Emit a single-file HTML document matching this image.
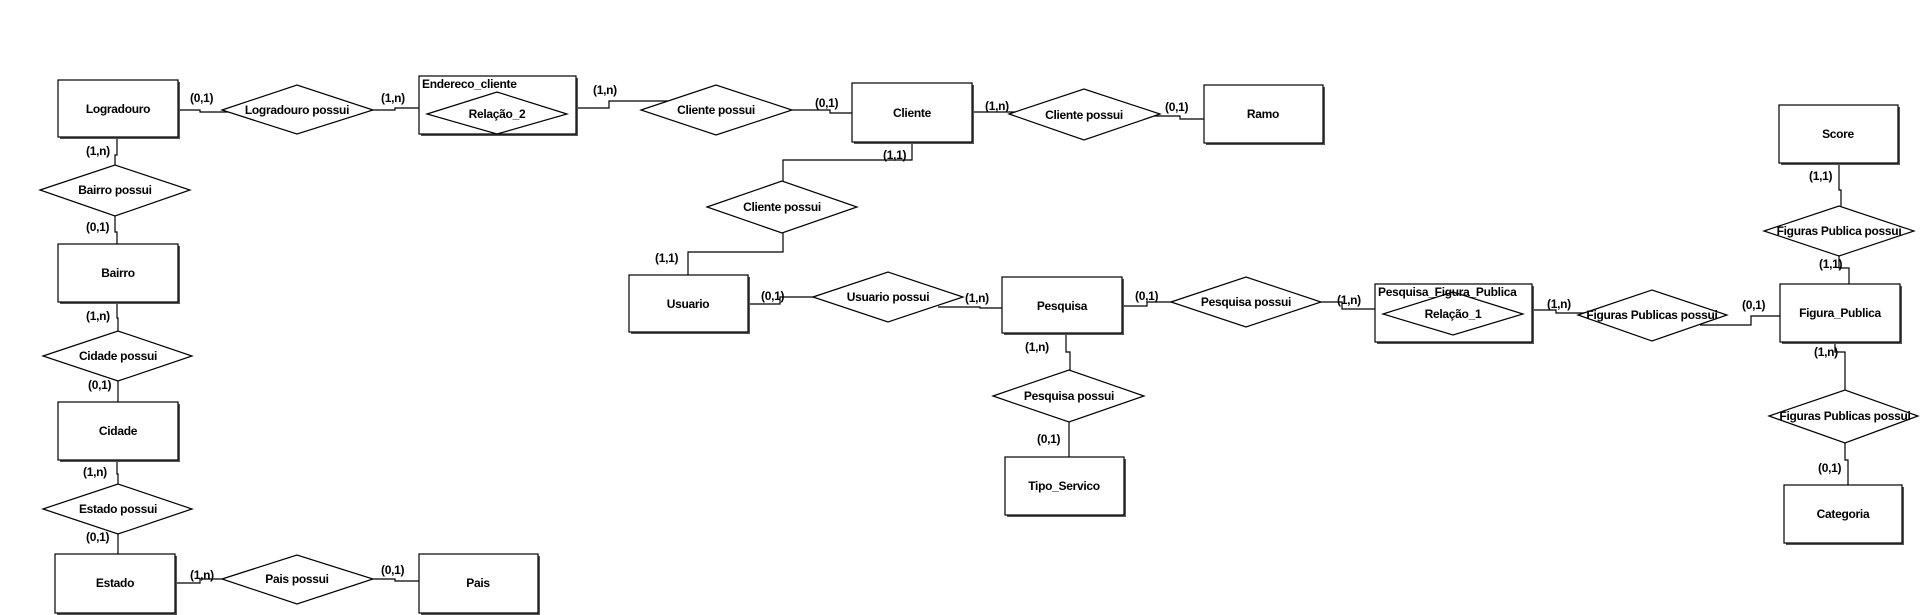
<!DOCTYPE html>
<html><head><meta charset="utf-8"><style>
html,body{margin:0;padding:0;background:#fff;}
svg{display:block;}
text{font-family:"Liberation Sans",Arial,sans-serif;font-weight:bold;font-size:12px;fill:#000;letter-spacing:-0.3px;}
</style></head><body>
<svg width="1922" height="615" viewBox="0 0 1922 615" xmlns="http://www.w3.org/2000/svg">
<g fill="none" stroke="#000" stroke-width="1.2">
<polyline points="178,110 200,110 200,112 232,112"/>
<polyline points="362,110 395,110 395,108 419,108"/>
<polyline points="576,108 609,108 609,101 668,101"/>
<polyline points="792,110 830,110 830,113 852,113"/>
<polyline points="972,112 1020,112"/>
<polyline points="1150,116 1180,116 1180,119 1204,119"/>
<polyline points="912,142 912,160 783,160 783,181"/>
<polyline points="783,233 783,252 688,252 688,275"/>
<polyline points="748,304 780,304 780,297 825,297"/>
<polyline points="938,307 980,307 980,308 1002,308"/>
<polyline points="1122,306 1147,306 1147,302 1180,302"/>
<polyline points="1312,302 1342,302 1342,309 1375,309"/>
<polyline points="1532,310 1556,310 1556,313 1590,313"/>
<polyline points="1700,325 1751,325 1751,316 1780,316"/>
<polyline points="1839,163 1839,190 1841,190 1841,206"/>
<polyline points="1839,256 1839,268 1849,268 1849,284"/>
<polyline points="1835,342 1835,352 1845,352 1845,390"/>
<polyline points="1845,443 1845,460 1848,460 1848,485"/>
<polyline points="1066,333 1066,352 1070,352 1070,370"/>
<polyline points="1069,422 1069,457"/>
<polyline points="117,137 117,155 115,155 115,165"/>
<polyline points="115,216 115,232 117,232 117,244"/>
<polyline points="117,302 117,318 118,318 118,331"/>
<polyline points="118,381 118,402"/>
<polyline points="117,460 117,474 118,474 118,484"/>
<polyline points="118,534 118,554"/>
<polyline points="175,583 200,583 200,579 222,579"/>
<polyline points="373,579 395,579 395,581 419,581"/>
</g>
<g stroke="#000" stroke-width="1.2">
<g fill="#555" stroke="none">
<rect x="60" y="82" width="120" height="57"/>
<rect x="421" y="78" width="157" height="58"/>
<rect x="854" y="85" width="120" height="59"/>
<rect x="1206" y="87" width="119" height="58"/>
<rect x="1781" y="107" width="119" height="58"/>
<rect x="631" y="277" width="119" height="57"/>
<rect x="1004" y="279" width="120" height="56"/>
<rect x="1377" y="286" width="157" height="58"/>
<rect x="1782" y="286" width="120" height="58"/>
<rect x="60" y="246" width="120" height="58"/>
<rect x="60" y="404" width="120" height="58"/>
<rect x="57" y="556" width="120" height="59"/>
<rect x="421" y="556" width="119" height="59"/>
<rect x="1007" y="459" width="119" height="58"/>
<rect x="1786" y="487" width="118" height="58"/>
</g>
<g fill="#fff">
<rect x="58" y="80" width="120" height="57"/>
<rect x="419" y="76" width="157" height="58"/>
<rect x="852" y="83" width="120" height="59"/>
<rect x="1204" y="85" width="119" height="58"/>
<rect x="1779" y="105" width="119" height="58"/>
<rect x="629" y="275" width="119" height="57"/>
<rect x="1002" y="277" width="120" height="56"/>
<rect x="1375" y="284" width="157" height="58"/>
<rect x="1780" y="284" width="120" height="58"/>
<rect x="58" y="244" width="120" height="58"/>
<rect x="58" y="402" width="120" height="58"/>
<rect x="55" y="554" width="120" height="59"/>
<rect x="419" y="554" width="119" height="59"/>
<rect x="1005" y="457" width="119" height="58"/>
<rect x="1784" y="485" width="118" height="58"/>
</g>
<g fill="#fff">
<polygon points="222,110 297,85 373,110 297,134"/>
<polygon points="641,110 716,85 792,110 716,135"/>
<polygon points="1009,114 1084,89 1160,114 1084,140"/>
<polygon points="40,190 115,165 190,190 115,216"/>
<polygon points="43,356 118,331 192,356 118,381"/>
<polygon points="43,509 118,484 192,509 118,534"/>
<polygon points="222,579 297,555 373,579 297,604"/>
<polygon points="707,207 782,181 857,207 782,233"/>
<polygon points="813,297 888,272 963,297 888,322"/>
<polygon points="1171,302 1246,277 1321,302 1246,327"/>
<polygon points="993,396 1069,370 1144,396 1069,422"/>
<polygon points="1578,315 1652,290 1727,315 1652,341"/>
<polygon points="1764,231 1839,206 1914,231 1839,256"/>
<polygon points="1769,416 1845,390 1918,416 1845,443"/>
<polygon points="427,114 497,92 567,114 497,134"/>
<polygon points="1383,314 1453,292 1523,314 1453,335"/>
</g>
</g>
<g text-anchor="middle">
<text x="118" y="113">Logradouro</text>
<text x="912" y="117">Cliente</text>
<text x="1263" y="118">Ramo</text>
<text x="1838" y="138">Score</text>
<text x="688" y="308">Usuario</text>
<text x="1062" y="310">Pesquisa</text>
<text x="1840" y="317">Figura_Publica</text>
<text x="118" y="277">Bairro</text>
<text x="118" y="435">Cidade</text>
<text x="115" y="587">Estado</text>
<text x="478" y="587">Pais</text>
<text x="1064" y="490">Tipo_Servico</text>
<text x="1843" y="518">Categoria</text>
<text x="497" y="118">Relação_2</text>
<text x="1453" y="318">Relação_1</text>
<text x="297" y="114">Logradouro possui</text>
<text x="716" y="114">Cliente possui</text>
<text x="1084" y="119">Cliente possui</text>
<text x="115" y="194">Bairro possui</text>
<text x="118" y="360">Cidade possui</text>
<text x="118" y="513">Estado possui</text>
<text x="297" y="583">Pais possui</text>
<text x="782" y="211">Cliente possui</text>
<text x="888" y="301">Usuario possui</text>
<text x="1246" y="306">Pesquisa possui</text>
<text x="1069" y="400">Pesquisa possui</text>
<text x="1652" y="319">Figuras Publicas possui</text>
<text x="1839" y="235">Figuras Publica possui</text>
<text x="1845" y="420">Figuras Publicas possui</text>
</g>
<g>
<text x="422" y="88">Endereco_cliente</text>
<text x="1378" y="296">Pesquisa_Figura_Publica</text>
</g>
<g font-size="11">
<text x="190" y="102">(0,1)</text>
<text x="381" y="102">(1,n)</text>
<text x="593" y="94">(1,n)</text>
<text x="815" y="107">(0,1)</text>
<text x="985" y="110">(1,n)</text>
<text x="1165" y="111">(0,1)</text>
<text x="883" y="159">(1,1)</text>
<text x="655" y="262">(1,1)</text>
<text x="761" y="300">(0,1)</text>
<text x="965" y="302">(1,n)</text>
<text x="1135" y="300">(0,1)</text>
<text x="1337" y="304">(1,n)</text>
<text x="1547" y="308">(1,n)</text>
<text x="1742" y="309">(0,1)</text>
<text x="1809" y="180">(1,1)</text>
<text x="1819" y="268">(1,1)</text>
<text x="1814" y="356">(1,n)</text>
<text x="1818" y="472">(0,1)</text>
<text x="1025" y="351">(1,n)</text>
<text x="1037" y="443">(0,1)</text>
<text x="86" y="155">(1,n)</text>
<text x="86" y="231">(0,1)</text>
<text x="86" y="320">(1,n)</text>
<text x="88" y="389">(0,1)</text>
<text x="83" y="476">(1,n)</text>
<text x="86" y="541">(0,1)</text>
<text x="190" y="579">(1,n)</text>
<text x="381" y="574">(0,1)</text>
</g>
</svg>
</body></html>
